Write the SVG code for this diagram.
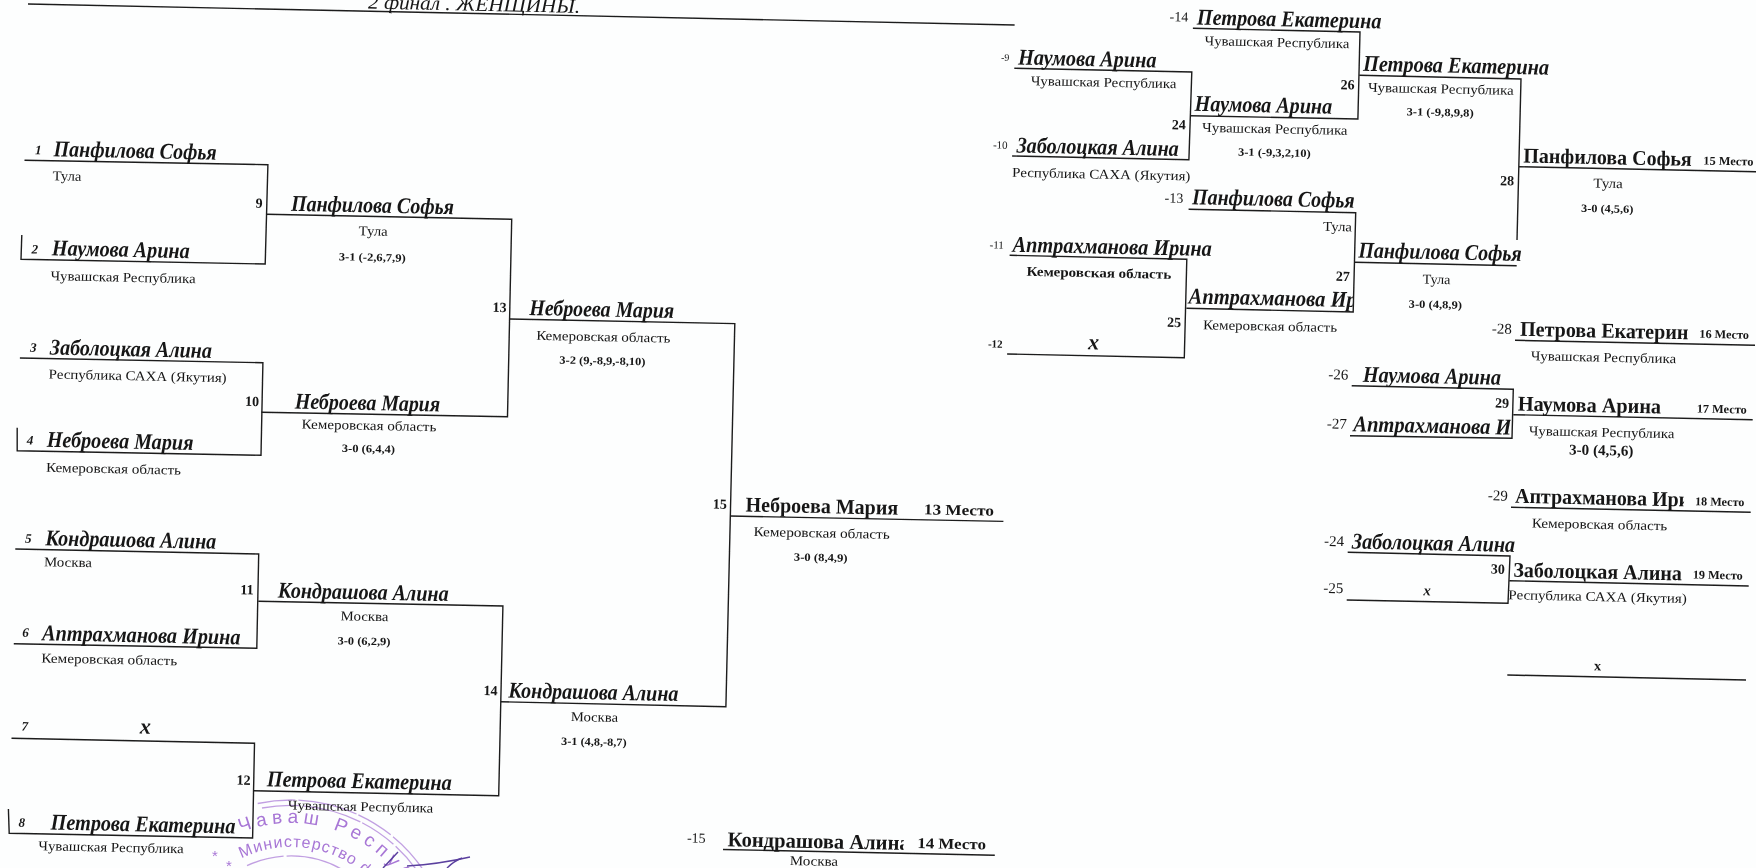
<svg xmlns="http://www.w3.org/2000/svg" width="1756" height="868" viewBox="0 0 1756 868">
<style>
text{font-family:"Liberation Serif","Times New Roman",serif;fill:#161616}
.n{font-size:22.5px;font-weight:bold;font-style:italic}
.b{font-size:21px;font-weight:bold}
.r{font-size:13.5px}
.s{font-size:11px;font-weight:bold}
.m{font-size:14px;font-weight:bold}
.k{font-size:13px;font-weight:bold;font-style:italic}
.d{font-size:14px}
.p{font-size:15px;font-weight:bold}
.q{font-size:12px;font-weight:bold}
.x{font-size:22px;font-weight:bold;font-style:italic}
.h{font-size:20px;font-style:italic}
.w{fill:none;stroke:#1c1c1c;stroke-width:1.4}
.st{fill:none;stroke:#a877d6;stroke-width:1.3;opacity:.7;stroke-dasharray:38 3 60 2}
.sf{font-family:"Liberation Sans",Arial,sans-serif;fill:#a877d6}
.sg{fill:none;stroke:#5a3f9e;stroke-width:1.4}
</style>
<defs>
<path id="arc1" d="M212.4 847.8A137 137 0 0 1 419.8 913"/>
<path id="arc2" d="M234.5 862.1A113 113 0 0 1 397.2 921.4"/>
<clipPath id="c1"><rect x="-5" y="-30" width="181" height="40"/></clipPath>
<clipPath id="c2"><rect x="-5" y="-30" width="169" height="40"/></clipPath>
<clipPath id="c3"><rect x="-5" y="-30" width="162" height="40"/></clipPath>
<clipPath id="c4"><rect x="-5" y="-30" width="174" height="40"/></clipPath>
<filter id="soft" x="0" y="0" width="100%" height="100%"><feGaussianBlur stdDeviation="0.35"/></filter>
</defs>
<rect width="1756" height="868" fill="#fdfefe"/>
<g filter="url(#soft)">
<g id="stamp">
<path class="st" d="M257.7 803.5A160 160 0 0 1 429.6 880"/>
<path class="st" d="M262 808A155 155 0 0 1 425 883"/>
<path class="st" d="M247 865.7A104 104 0 0 1 357.8 880.3"/>
<text class="sf" font-size="19" letter-spacing="5"><textPath href="#arc1" startOffset="32">Чаваш Республика</textPath></text>
<text class="sf" font-size="16" letter-spacing="1"><textPath href="#arc2" startOffset="8">Министерство ф</textPath></text>
<text class="sf" font-size="15" x="212" y="861">*</text>
<text class="sf" font-size="15" x="226" y="871">*</text>
<path class="sg" d="M383 868L398 852"/>
<path class="sg" d="M407 866Q440 864 470 857"/>
<path class="sg" d="M447 868Q454 861 462 858"/>
</g>

<g id="connectors">
<polyline class="w" points="28,4 1014.6,25"/>
<polyline class="w" points="24.5,160.3 267.9,164.7 265.2,264 21,259.3 21.8,235"/>
<polyline class="w" points="266.4,214.3 511.7,219.3 507.5,416.7 261.4,412.3"/>
<polyline class="w" points="19.9,358 262.9,362.7 261,455.3 17.2,450.7 17.2,427.7"/>
<polyline class="w" points="509.8,319 734.8,323.6 725.9,706.7 500.7,701.8"/>
<polyline class="w" points="15.3,549 258.7,554 256.8,648.3 13.8,643.7"/>
<polyline class="w" points="258.3,601.3 502.9,606 498.7,795.7 253.7,790.7"/>
<polyline class="w" points="11.5,738.3 254.5,743.3 252.6,838 9.2,833.3 8.4,809"/>
<polyline class="w" points="730,516 1003.4,521.4"/>
<polyline class="w" points="723,849.5 994.8,855.2"/>
<polyline class="w" points="1192.9,28.3 1360,32 1357.9,119 1190.7,115.7"/>
<polyline class="w" points="1014.3,68.3 1191.8,72 1188.9,159.7 1012.1,156"/>
<polyline class="w" points="1359.3,75.3 1521,79 1517,240"/>
<polyline class="w" points="1188.6,209.3 1355.7,212.7 1353.2,312 1186.4,308.3"/>
<polyline class="w" points="1009.6,255.3 1186.8,259.3 1184.3,357.7 1007.1,354"/>
<polyline class="w" points="1354.6,262.3 1516.7,265.7"/>
<polyline class="w" points="1519,166.7 1756,171.7"/>
<polyline class="w" points="1515,340.3 1755,345.3"/>
<polyline class="w" points="1351.7,385.7 1513.3,389.3 1512,438.3 1350,435.7"/>
<polyline class="w" points="1513.3,414.7 1752.7,419.7"/>
<polyline class="w" points="1511,507.3 1750.7,512.3"/>
<polyline class="w" points="1347.7,552.3 1510,556 1508,603.3 1346.7,600"/>
<polyline class="w" points="1509.3,580.7 1748.7,586"/>
<polyline class="w" points="1507.3,675 1746,680"/>
</g>

<g id="labels" transform="translate(0 -1.5)">
<g id="title"><text class="h" transform="translate(368 10) rotate(1.2)" textLength="212" lengthAdjust="spacingAndGlyphs">2 финал . ЖЕНЩИНЫ.</text></g>

<g id="seed1"><text class="k" transform="translate(35 155.7) rotate(1.2)">1</text><text class="n" transform="translate(53.6 157.7) rotate(1.2)" textLength="163" lengthAdjust="spacingAndGlyphs">Панфилова Софья</text><text class="r" transform="translate(52.4 181.7) rotate(1.2)" textLength="29" lengthAdjust="spacingAndGlyphs">Тула</text></g>
<g id="seed2"><text class="k" transform="translate(31.4 255) rotate(1.2)">2</text><text class="n" transform="translate(51.7 256.7) rotate(1.2)" textLength="138" lengthAdjust="spacingAndGlyphs">Наумова Арина</text><text class="r" transform="translate(50.5 281.7) rotate(1.2)" textLength="145" lengthAdjust="spacingAndGlyphs">Чувашская Республика</text></g>
<g id="seed3"><text class="k" transform="translate(29.9 353.3) rotate(1.2)">3</text><text class="n" transform="translate(49.8 356) rotate(1.2)" textLength="162" lengthAdjust="spacingAndGlyphs">Заболоцкая Алина</text><text class="r" transform="translate(48.6 380) rotate(1.2)" textLength="178" lengthAdjust="spacingAndGlyphs">Республика САХА (Якутия)</text></g>
<g id="seed4"><text class="k" transform="translate(26.8 446) rotate(1.2)">4</text><text class="n" transform="translate(46.7 448.3) rotate(1.2)" textLength="146.6" lengthAdjust="spacingAndGlyphs">Неброева Мария</text><text class="r" transform="translate(45.9 473.3) rotate(1.2)" textLength="135" lengthAdjust="spacingAndGlyphs">Кемеровская область</text></g>
<g id="seed5"><text class="k" transform="translate(24.9 544.3) rotate(1.2)">5</text><text class="n" transform="translate(45.2 546.7) rotate(1.2)" textLength="171" lengthAdjust="spacingAndGlyphs">Кондрашова Алина</text><text class="r" transform="translate(44 567.7) rotate(1.2)" textLength="47.8" lengthAdjust="spacingAndGlyphs">Москва</text></g>
<g id="seed6"><text class="k" transform="translate(22.2 638.3) rotate(1.2)">6</text><text class="n" transform="translate(42.1 641.7) rotate(1.2)" textLength="198.2" lengthAdjust="spacingAndGlyphs">Аптрахманова Ирина</text><text class="r" transform="translate(41.3 664) rotate(1.2)" textLength="135.9" lengthAdjust="spacingAndGlyphs">Кемеровская область</text></g>
<g id="seed7"><text class="k" transform="translate(21.4 732) rotate(1.2)">7</text><text class="x" transform="translate(139.7 735) rotate(1.2)">x</text></g>
<g id="seed8"><text class="k" transform="translate(18.4 828.3) rotate(1.2)">8</text><text class="n" transform="translate(50.5 831) rotate(1.2)" textLength="184.9" lengthAdjust="spacingAndGlyphs">Петрова Екатерина</text><text class="r" transform="translate(38.3 851.7) rotate(1.2)" textLength="145.4" lengthAdjust="spacingAndGlyphs">Чувашская Республика</text></g>

<g id="match9"><text class="m" transform="translate(255.6 209.3) rotate(1.2)">9</text><text class="n" transform="translate(290.9 212.3) rotate(1.2)" textLength="163" lengthAdjust="spacingAndGlyphs">Панфилова Софья</text><text class="r" transform="translate(358.6 236.7) rotate(1.2)" textLength="29" lengthAdjust="spacingAndGlyphs">Тула</text><text class="s" transform="translate(338.7 261.7) rotate(1.2)" textLength="67" lengthAdjust="spacingAndGlyphs">3-1 (-2,6,7,9)</text></g>
<g id="match10"><text class="m" transform="translate(245 407.3) rotate(1.2)">10</text><text class="n" transform="translate(294.7 410) rotate(1.2)" textLength="145.3" lengthAdjust="spacingAndGlyphs">Неброева Мария</text><text class="r" transform="translate(301.6 430) rotate(1.2)" textLength="134.7" lengthAdjust="spacingAndGlyphs">Кемеровская область</text><text class="s" transform="translate(341.8 453.3) rotate(1.2)" textLength="53.2" lengthAdjust="spacingAndGlyphs">3-0 (6,4,4)</text></g>
<g id="match11"><text class="m" transform="translate(240.3 595.7) rotate(1.2)">11</text><text class="n" transform="translate(277.8 599) rotate(1.2)" textLength="170.7" lengthAdjust="spacingAndGlyphs">Кондрашова Алина</text><text class="r" transform="translate(340.6 621.7) rotate(1.2)" textLength="47.8" lengthAdjust="spacingAndGlyphs">Москва</text><text class="s" transform="translate(337.5 645.7) rotate(1.2)" textLength="52.9" lengthAdjust="spacingAndGlyphs">3-0 (6,2,9)</text></g>
<g id="match12"><text class="m" transform="translate(236.5 786) rotate(1.2)">12</text><text class="n" transform="translate(266.7 787.7) rotate(1.2)" textLength="184.9" lengthAdjust="spacingAndGlyphs">Петрова Екатерина</text><text class="r" transform="translate(287.8 811) rotate(1.2)" textLength="145.4" lengthAdjust="spacingAndGlyphs">Чувашская Республика</text></g>
<g id="match13"><text class="m" transform="translate(492.5 313.3) rotate(1.2)">13</text><text class="n" transform="translate(529.3 316.5) rotate(1.2)" textLength="144.7" lengthAdjust="spacingAndGlyphs">Неброева Мария</text><text class="r" transform="translate(536.2 341.3) rotate(1.2)" textLength="134.1" lengthAdjust="spacingAndGlyphs">Кемеровская область</text><text class="s" transform="translate(559.3 365) rotate(1.2)" textLength="86.2" lengthAdjust="spacingAndGlyphs">3-2 (9,-8,9,-8,10)</text></g>
<g id="match14"><text class="m" transform="translate(483.4 696.5) rotate(1.2)">14</text><text class="n" transform="translate(508.3 699) rotate(1.2)" textLength="170" lengthAdjust="spacingAndGlyphs">Кондрашова Алина</text><text class="r" transform="translate(570.7 722.5) rotate(1.2)" textLength="47.3" lengthAdjust="spacingAndGlyphs">Москва</text><text class="s" transform="translate(561 746.2) rotate(1.2)" textLength="65.6" lengthAdjust="spacingAndGlyphs">3-1 (4,8,-8,7)</text></g>
<g id="match15"><text class="m" transform="translate(712.8 510) rotate(1.2)">15</text><text class="b" transform="translate(745.5 513) rotate(1.2)" textLength="152.5" lengthAdjust="spacingAndGlyphs">Неброева Мария</text><text class="p" transform="translate(923.8 515.7) rotate(1.2)" textLength="70" lengthAdjust="spacingAndGlyphs">13 Место</text><text class="r" transform="translate(753.4 537.5) rotate(1.2)" textLength="136.3" lengthAdjust="spacingAndGlyphs">Кемеровская область</text><text class="s" transform="translate(793.8 562) rotate(1.2)" textLength="53.8" lengthAdjust="spacingAndGlyphs">3-0 (8,4,9)</text></g>
<g id="place14"><text class="d" transform="translate(686.9 844) rotate(1.2)">-15</text><text class="b" transform="translate(727.6 847.7) rotate(1.2)" textLength="182" lengthAdjust="spacingAndGlyphs" clip-path="url(#c1)">Кондрашова Алина</text><text class="p" transform="translate(917.2 849.5) rotate(1.2)" textLength="68.7" lengthAdjust="spacingAndGlyphs">14 Место</text><text class="r" transform="translate(789.7 866.5) rotate(1.2)" textLength="48.3" lengthAdjust="spacingAndGlyphs">Москва</text></g>

<g id="loser9"><text class="d" style="font-size:10px" transform="translate(1001 62.3) rotate(1.2)">-9</text><text class="n" transform="translate(1017.9 66) rotate(1.2)" textLength="138.5" lengthAdjust="spacingAndGlyphs">Наумова Арина</text><text class="r" transform="translate(1030.7 86.7) rotate(1.2)" textLength="145.7" lengthAdjust="spacingAndGlyphs">Чувашская Республика</text></g>
<g id="loser10"><text class="d" style="font-size:11px" transform="translate(992.9 150) rotate(1.2)">-10</text><text class="n" transform="translate(1016.4 154) rotate(1.2)" textLength="162.2" lengthAdjust="spacingAndGlyphs">Заболоцкая Алина</text><text class="r" transform="translate(1012.1 178.3) rotate(1.2)" textLength="178.3" lengthAdjust="spacingAndGlyphs">Республика САХА (Якутия)</text></g>
<g id="loser11"><text class="d" style="font-size:11px" transform="translate(989.6 250) rotate(1.2)">-11</text><text class="n" transform="translate(1012.5 253.3) rotate(1.2)" textLength="199.3" lengthAdjust="spacingAndGlyphs">Аптрахманова Ирина</text><text class="r" style="font-weight:bold" transform="translate(1026.4 277.3) rotate(1.2)" textLength="144.7" lengthAdjust="spacingAndGlyphs">Кемеровская область</text></g>
<g id="loser12"><text class="s" transform="translate(987.9 349) rotate(1.2)">-12</text><text class="x" transform="translate(1087.9 350.7) rotate(1.2)">x</text></g>
<g id="loser13"><text class="d" transform="translate(1164.6 204) rotate(1.2)">-13</text><text class="n" transform="translate(1192.1 205.7) rotate(1.2)" textLength="162.5" lengthAdjust="spacingAndGlyphs">Панфилова Софья</text><text class="r" transform="translate(1322.9 232.3) rotate(1.2)" textLength="28.9" lengthAdjust="spacingAndGlyphs">Тула</text></g>
<g id="loser14"><text class="d" transform="translate(1169.6 22.7) rotate(1.2)">-14</text><text class="n" transform="translate(1196.8 26) rotate(1.2)" textLength="184.6" lengthAdjust="spacingAndGlyphs">Петрова Екатерина</text><text class="r" transform="translate(1204.6 46.7) rotate(1.2)" textLength="144.7" lengthAdjust="spacingAndGlyphs">Чувашская Республика</text></g>
<g id="match24"><text class="m" transform="translate(1171.8 130.7) rotate(1.2)">24</text><text class="n" transform="translate(1194.6 112.3) rotate(1.2)" textLength="137.5" lengthAdjust="spacingAndGlyphs">Наумова Арина</text><text class="r" transform="translate(1202.1 133.3) rotate(1.2)" textLength="145.4" lengthAdjust="spacingAndGlyphs">Чувашская Республика</text><text class="s" transform="translate(1237.9 157) rotate(1.2)" textLength="72.8" lengthAdjust="spacingAndGlyphs">3-1 (-9,3,2,10)</text></g>
<g id="match25"><text class="m" transform="translate(1167.1 328.3) rotate(1.2)">25</text><text class="n" transform="translate(1188.6 305) rotate(1.2)" textLength="168" lengthAdjust="spacingAndGlyphs" clip-path="url(#c2)">Аптрахманова Ир</text><text class="r" transform="translate(1202.9 330.7) rotate(1.2)" textLength="134.1" lengthAdjust="spacingAndGlyphs">Кемеровская область</text></g>
<g id="match26"><text class="m" transform="translate(1340.4 90.7) rotate(1.2)">26</text><text class="n" transform="translate(1362.9 72.3) rotate(1.2)" textLength="186.1" lengthAdjust="spacingAndGlyphs">Петрова Екатерина</text><text class="r" transform="translate(1367.9 93.3) rotate(1.2)" textLength="145.7" lengthAdjust="spacingAndGlyphs">Чувашская Республика</text><text class="s" transform="translate(1406.4 116.7) rotate(1.2)" textLength="67.2" lengthAdjust="spacingAndGlyphs">3-1 (-9,8,9,8)</text></g>
<g id="match27"><text class="m" transform="translate(1335.7 282.3) rotate(1.2)">27</text><text class="n" transform="translate(1358.2 259) rotate(1.2)" textLength="163.5" lengthAdjust="spacingAndGlyphs">Панфилова Софья</text><text class="r" transform="translate(1422.5 285) rotate(1.2)" textLength="27.9" lengthAdjust="spacingAndGlyphs">Тула</text><text class="s" transform="translate(1408.6 309) rotate(1.2)" textLength="53.4" lengthAdjust="spacingAndGlyphs">3-0 (4,8,9)</text></g>
<g id="match28"><text class="m" transform="translate(1500 186.7) rotate(1.2)">28</text><text class="b" transform="translate(1523.3 164) rotate(1.2)" textLength="168.4" lengthAdjust="spacingAndGlyphs">Панфилова Софья</text><text class="q" transform="translate(1703.3 166) rotate(1.2)" textLength="50" lengthAdjust="spacingAndGlyphs">15 Место</text><text class="r" transform="translate(1593.3 189) rotate(1.2)" textLength="29.4" lengthAdjust="spacingAndGlyphs">Тула</text><text class="s" transform="translate(1581 213.3) rotate(1.2)" textLength="52.3" lengthAdjust="spacingAndGlyphs">3-0 (4,5,6)</text></g>
<g id="place16"><text class="d" style="font-size:15px" transform="translate(1491.7 335) rotate(1.2)">-28</text><text class="b" transform="translate(1520 337.3) rotate(1.2)" textLength="168.3" lengthAdjust="spacingAndGlyphs">Петрова Екатерин</text><text class="q" transform="translate(1699.3 339.3) rotate(1.2)" textLength="49.7" lengthAdjust="spacingAndGlyphs">16 Место</text><text class="r" transform="translate(1530.7 361.7) rotate(1.2)" textLength="145.3" lengthAdjust="spacingAndGlyphs">Чувашская Республика</text></g>
<g id="loser26"><text class="d" style="font-size:15px" transform="translate(1328.3 380.7) rotate(1.2)">-26</text><text class="n" transform="translate(1362.7 383.3) rotate(1.2)" textLength="138.3" lengthAdjust="spacingAndGlyphs">Наумова Арина</text></g>
<g id="loser27"><text class="d" style="font-size:15px" transform="translate(1326.7 430) rotate(1.2)">-27</text><text class="n" transform="translate(1353.3 432.7) rotate(1.2)" textLength="158" lengthAdjust="spacingAndGlyphs" clip-path="url(#c3)">Аптрахманова И</text></g>
<g id="match29"><text class="m" transform="translate(1495 409) rotate(1.2)">29</text><text class="b" transform="translate(1517.7 412) rotate(1.2)" textLength="143.3" lengthAdjust="spacingAndGlyphs">Наумова Арина</text><text class="q" transform="translate(1696.7 414) rotate(1.2)" textLength="50" lengthAdjust="spacingAndGlyphs">17 Место</text><text class="r" transform="translate(1528.7 436.7) rotate(1.2)" textLength="145.6" lengthAdjust="spacingAndGlyphs">Чувашская Республика</text><text class="p" transform="translate(1569 456) rotate(1.2)" textLength="64.3" lengthAdjust="spacingAndGlyphs">3-0 (4,5,6)</text></g>
<g id="place18"><text class="d" style="font-size:15px" transform="translate(1487.7 501.7) rotate(1.2)">-29</text><text class="b" transform="translate(1515 504.3) rotate(1.2)" textLength="175" lengthAdjust="spacingAndGlyphs" clip-path="url(#c4)">Аптрахманова Ири</text><text class="q" transform="translate(1695 506.7) rotate(1.2)" textLength="49.3" lengthAdjust="spacingAndGlyphs">18 Место</text><text class="r" transform="translate(1531.7 529) rotate(1.2)" textLength="135.6" lengthAdjust="spacingAndGlyphs">Кемеровская область</text></g>
<g id="loser24"><text class="d" style="font-size:15px" transform="translate(1324 547.3) rotate(1.2)">-24</text><text class="n" transform="translate(1351.7 550) rotate(1.2)" textLength="163.3" lengthAdjust="spacingAndGlyphs">Заболоцкая Алина</text></g>
<g id="loser25"><text class="d" style="font-size:15px" transform="translate(1323.3 594.3) rotate(1.2)">-25</text><text class="k" style="font-size:15px" transform="translate(1423.3 596.7) rotate(1.2)">x</text></g>
<g id="match30"><text class="m" transform="translate(1490.7 575) rotate(1.2)">30</text><text class="b" transform="translate(1513.3 578.3) rotate(1.2)" textLength="168.4" lengthAdjust="spacingAndGlyphs">Заболоцкая Алина</text><text class="q" transform="translate(1692.7 580) rotate(1.2)" textLength="50" lengthAdjust="spacingAndGlyphs">19 Место</text><text class="r" transform="translate(1508.3 600.7) rotate(1.2)" textLength="178.4" lengthAdjust="spacingAndGlyphs">Республика САХА (Якутия)</text></g>
<g id="place20"><text class="m" transform="translate(1594 671.7) rotate(1.2)">x</text></g>
</g>
</g>
</svg>
